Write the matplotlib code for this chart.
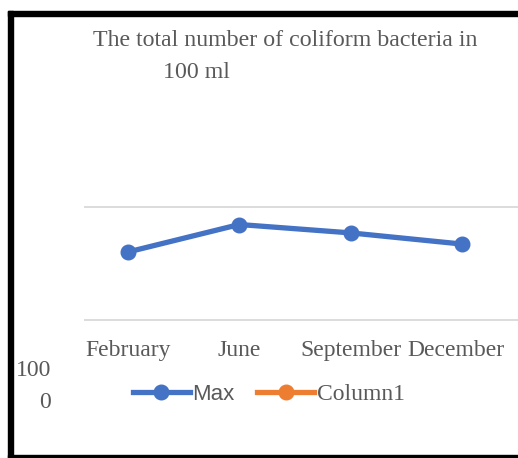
import matplotlib
matplotlib.use("Agg")
import matplotlib.pyplot as plt
import matplotlib.transforms as mtransforms
from matplotlib.lines import Line2D
from matplotlib.patches import Rectangle

# Data
months = ["February", "June", "September", "December"]
max_counts = [4000, 7000, 5900, 4700]
column1 = []
grid_values = [1000, 10000]

W, H = 518, 458
DPI = 100
fig = plt.figure(figsize=(W / DPI, H / DPI), dpi=DPI)
fig.patch.set_facecolor("white")

def fx(px):
    return px / W

def fy(py):
    return 1 - py / H

SERIF = "Liberation Serif"
SANS = "Liberation Sans"
TXT = "#595959"
BLUE = "#4472C4"
ORANGE = "#ED7D31"

# Plot area
ax_left, ax_right, ax_top, ax_bottom = 84, 518, 180, 330
ax = fig.add_axes([fx(ax_left), fy(ax_bottom), fx(ax_right - ax_left), (ax_bottom - ax_top) / H])
ax.set_yscale("log")
ax.set_ylim(10 ** 2.9115, 10 ** 4.239)
ax.set_xlim(-0.395, 3.503)
for s in ax.spines.values():
    s.set_visible(False)
ax.set_yticks(grid_values)
ax.yaxis.set_minor_locator(matplotlib.ticker.NullLocator())
ax.set_yticklabels([])
ax.tick_params(axis="y", length=0)
ax.grid(axis="y", color="#D9D9D9", linewidth=1.3)
ax.set_axisbelow(True)

x = list(range(len(months)))
ax.plot(x, max_counts, color=BLUE, linewidth=3.8, marker="o", markersize=10.5,
        solid_capstyle="round", clip_on=False, zorder=3)
ax.plot(x[:len(column1)], column1, color=ORANGE, linewidth=3.8, marker="o", markersize=10.5)

ax.set_xticks(x)
ax.set_xticklabels(months, fontfamily=SERIF, fontsize=17, color=TXT)
ax.tick_params(axis="x", length=0, pad=7)
# last label nudged left so it stays inside the frame
last = ax.get_xticklabels()[-1]
last.set_transform(last.get_transform() +
                   mtransforms.ScaledTranslation(-6 / DPI, 0, fig.dpi_scale_trans))

# Title (two lines, placed independently)
fig.text(fx(93), fy(41), "The total number of coliform bacteria in", fontfamily=SERIF,
         fontsize=17.2, color=TXT, ha="left", va="center")
fig.text(fx(163), fy(72), "100 ml", fontfamily=SERIF, fontsize=17.2, color=TXT,
         ha="left", va="center")

# Wrapped axis value label
fig.text(fx(51), fy(370), "100", fontfamily=SERIF, fontsize=17, color=TXT, ha="right", va="center")
fig.text(fx(51), fy(403), "0", fontfamily=SERIF, fontsize=17, color=TXT, ha="right", va="center")

# Legend
handles = [
    Line2D([], [], color=BLUE, linewidth=3.8, marker="o", markersize=10.5),
    Line2D([], [], color=ORANGE, linewidth=3.8, marker="o", markersize=10.5),
]
leg = fig.legend(handles, ["Max", "Column1"], loc="center left",
                 bbox_to_anchor=(fx(133), fy(394)), ncol=2, frameon=False,
                 fontsize=17, handlelength=2.4, handletextpad=0.12,
                 columnspacing=0.95, borderpad=0, borderaxespad=0)
texts = leg.get_texts()
texts[0].set_fontfamily(SANS)
texts[0].set_fontsize(16)
texts[1].set_fontfamily(SERIF)
for t in texts:
    t.set_color(TXT)

# Black frame on left, top and bottom
for (x0, y0, w, h) in [(8, 11, 4.5, 447), (8, 11, 510, 4.5), (8, 455, 510, 3)]:
    fig.patches.append(Rectangle((fx(x0), fy(y0 + h)), w / W, h / H,
                                 transform=fig.transFigure, color="black", zorder=10))

fig.savefig("out.png", dpi=DPI, facecolor="white")
